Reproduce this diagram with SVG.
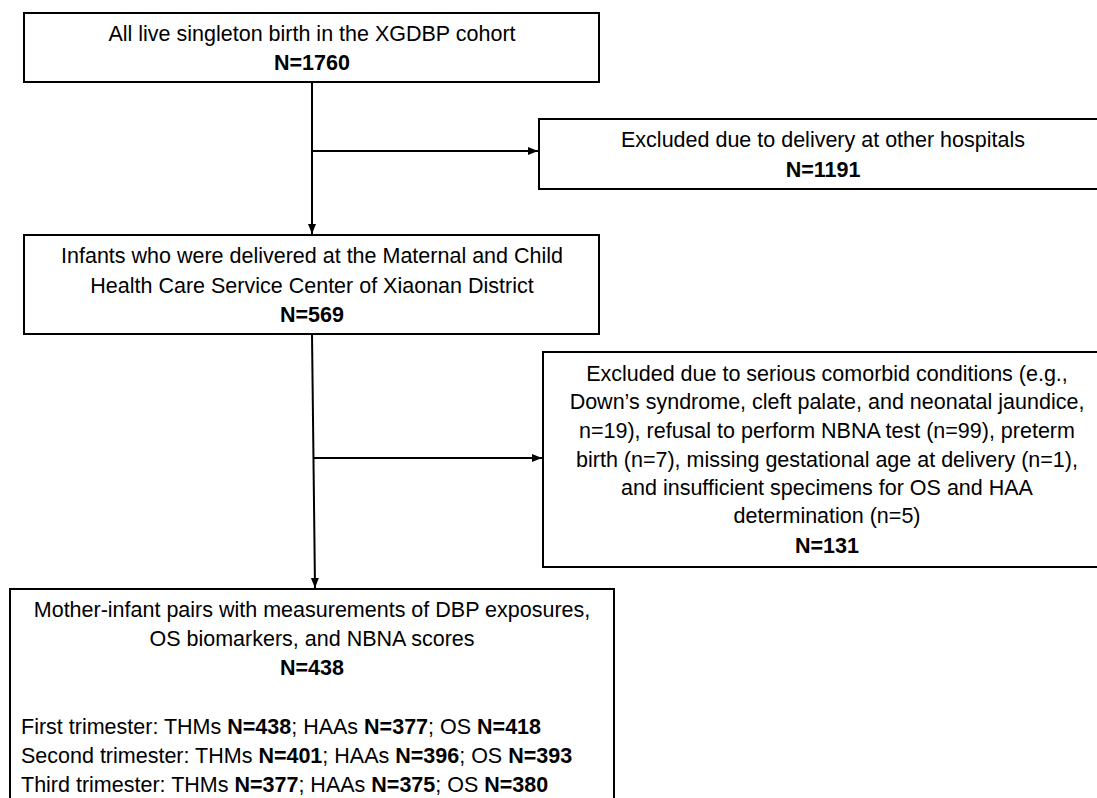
<svg xmlns="http://www.w3.org/2000/svg" width="1097" height="798" viewBox="0 0 1097 798">
<style>
.box{fill:#fff;stroke:#000;stroke-width:2}
.t{font-family:"Liberation Sans",Arial,sans-serif;font-size:21.5px;fill:#000;text-anchor:middle}
.l{text-anchor:start}
.b{font-weight:bold}
.c{fill:none;stroke:#000;stroke-width:2}
</style>
<defs>
<marker id="ah" markerUnits="userSpaceOnUse" markerWidth="10" markerHeight="10" refX="10" refY="5" orient="auto">
<path d="M0,1 L10,5 L0,9 z" fill="#000"/>
</marker>
</defs>
<rect width="1097" height="798" fill="#fff"/>
<g id="connectors">
<line class="c" x1="312" y1="82" x2="312" y2="234" marker-end="url(#ah)"/>
<line class="c" x1="312" y1="151" x2="538" y2="151" marker-end="url(#ah)"/>
<line class="c" x1="312" y1="334" x2="315" y2="588" marker-end="url(#ah)"/>
<line class="c" x1="314" y1="458" x2="542" y2="458" marker-end="url(#ah)"/>
</g>
<g id="cohort">
<rect class="box" x="24" y="13" width="575" height="69"/>
<text class="t" x="312" y="41">All live singleton birth in the XGDBP cohort</text>
<text class="t b" x="312" y="70">N=1760</text>
</g>
<g id="excluded1">
<rect class="box" x="539" y="119" width="580" height="70"/>
<text class="t" x="823" y="147">Excluded due to delivery at other hospitals</text>
<text class="t b" x="823" y="177">N=1191</text>
</g>
<g id="delivered">
<rect class="box" x="24" y="235" width="575" height="99"/>
<text class="t" x="312" y="263">Infants who were delivered at the Maternal and Child</text>
<text class="t" x="312" y="293">Health Care Service Center of Xiaonan District</text>
<text class="t b" x="312" y="322">N=569</text>
</g>
<g id="excluded2">
<rect class="box" x="543" y="352" width="580" height="215"/>
<text class="t" x="827" y="381">Excluded due to serious comorbid conditions (e.g.,</text>
<text class="t" x="827" y="409">Down’s syndrome, cleft palate, and neonatal jaundice,</text>
<text class="t" x="827" y="438">n=19), refusal to perform NBNA test (n=99), preterm</text>
<text class="t" x="827" y="467">birth (n=7), missing gestational age at delivery (n=1),</text>
<text class="t" x="827" y="495">and insufficient specimens for OS and HAA</text>
<text class="t" x="827" y="523">determination (n=5)</text>
<text class="t b" x="827" y="553">N=131</text>
</g>
<g id="final">
<rect class="box" x="10" y="589" width="604" height="240"/>
<text class="t" x="312" y="617">Mother-infant pairs with measurements of DBP exposures,</text>
<text class="t" x="312" y="646">OS biomarkers, and NBNA scores</text>
<text class="t b" x="312" y="675">N=438</text>
<text class="t l" x="21" y="734">First trimester: THMs <tspan class="b">N=438</tspan>; HAAs <tspan class="b">N=377</tspan>; OS <tspan class="b">N=418</tspan></text>
<text class="t l" x="21" y="763">Second trimester: THMs <tspan class="b">N=401</tspan>; HAAs <tspan class="b">N=396</tspan>; OS <tspan class="b">N=393</tspan></text>
<text class="t l" x="21" y="792">Third trimester: THMs <tspan class="b">N=377</tspan>; HAAs <tspan class="b">N=375</tspan>; OS <tspan class="b">N=380</tspan></text>
</g>
</svg>
